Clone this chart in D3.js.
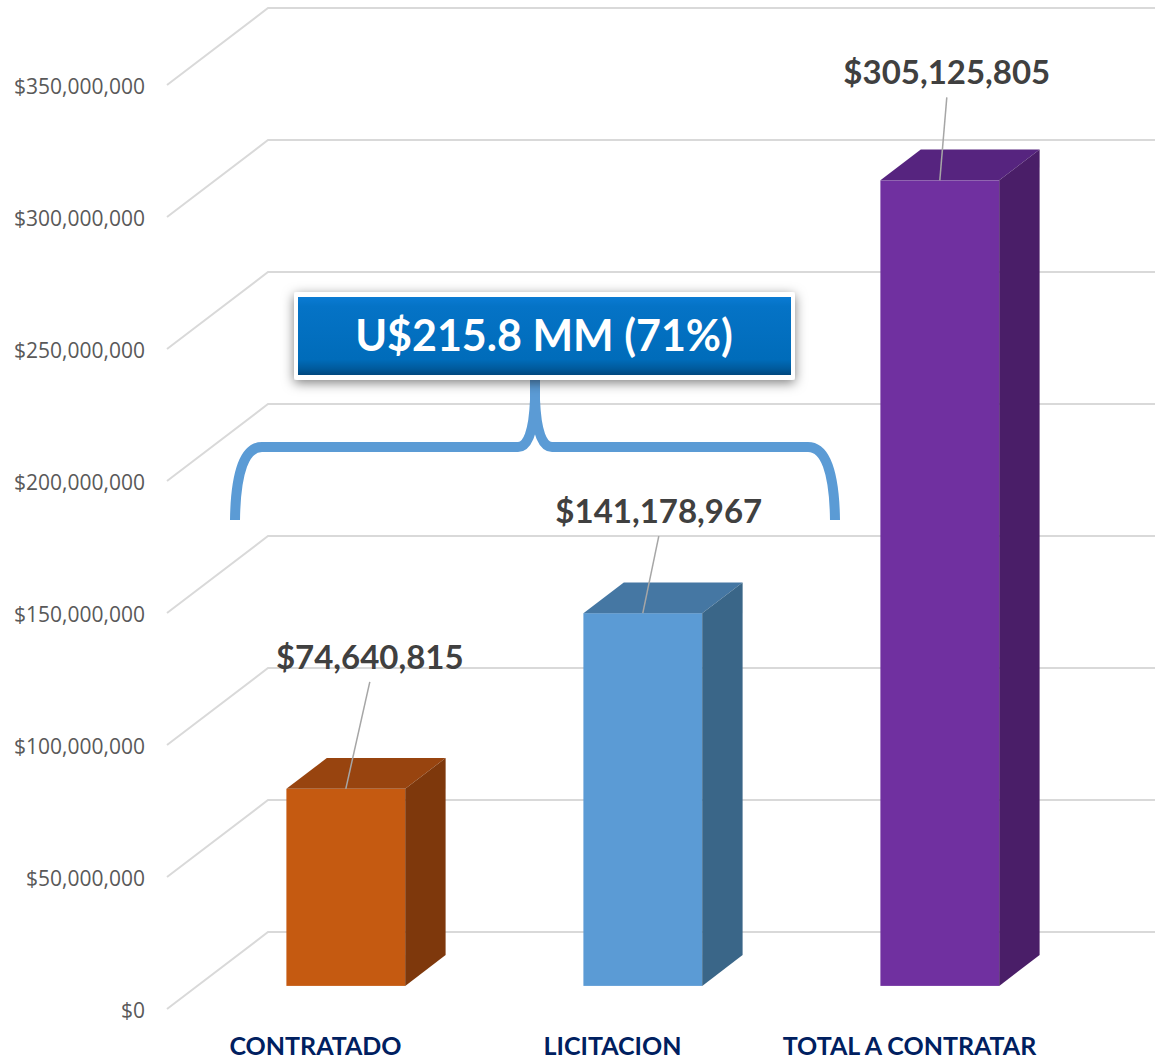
<!DOCTYPE html>
<html>
<head>
<meta charset="utf-8">
<script src="https://cdn.jsdelivr.net/npm/d3@7"></script>
<style>
  body { margin: 0; background: #fff; }
  svg text { font-family: Lato, "Open Sans", sans-serif; }
</style>
</head>
<body>
<div id="chart"></div>
<script>
// Data
const categories = ["CONTRATADO", "LICITACION", "TOTAL A CONTRATAR"];
const values = [74640815, 141178967, 305125805];
const yTicks = [0, 50e6, 100e6, 150e6, 200e6, 250e6, 300e6, 350e6];
const calloutText = "U$215.8 MM (71%)";

// Colours per bar: front, top, side
const frontColors = ["#C55A11", "#5B9BD5", "#7030A0"];
const topColors = ["#98440F", "#4577A3", "#56247F"];
const sideColors = ["#7E380C", "#3A6688", "#4A1E68"];

const width = 1155, height = 1061;

// 3D depth offset (full depth of the plot box)
const depthX = 101, depthY = -77;
const barZ0 = 0.3, barZ1 = 0.7;

const svg = d3.select("#chart")
    .append("svg")
    .attr("width", width)
    .attr("height", height);

const defs = svg.append("defs");
const grad = defs.append("linearGradient")
    .attr("id", "boxGrad")
    .attr("x1", 0).attr("y1", 0).attr("x2", 0).attr("y2", 1);
grad.append("stop").attr("offset", "0%").attr("stop-color", "#0A7BD3");
grad.append("stop").attr("offset", "12%").attr("stop-color", "#0573C6");
grad.append("stop").attr("offset", "80%").attr("stop-color", "#006CBA");
grad.append("stop").attr("offset", "92%").attr("stop-color", "#005A9C");
grad.append("stop").attr("offset", "100%").attr("stop-color", "#00477D");

const shadow = defs.append("filter")
    .attr("id", "shadow")
    .attr("x", "-10%").attr("y", "-40%")
    .attr("width", "120%").attr("height", "180%");
shadow.append("feDropShadow")
    .attr("dx", 0).attr("dy", 3)
    .attr("stdDeviation", 6)
    .attr("flood-color", "#000")
    .attr("flood-opacity", 0.5);

// Scales
const xScale = d3.scaleBand()
    .domain(categories)
    .range([167, 1058])
    .paddingInner(0.6)
    .paddingOuter(0.3);

const yScale = d3.scaleLinear()
    .domain([0, 350e6])
    .range([1009, 85]);

// project (x, value, depth z) to screen
function px(x, z) { return x + z * depthX; }
function py(v, z) { return yScale(v) + z * depthY; }

// Gridlines: side wall diagonal + back wall
svg.append("g")
    .selectAll("polyline")
    .data(yTicks)
    .enter().append("polyline")
    .attr("points", d => [
        [xScale.range()[0], py(d, 0)],
        [px(xScale.range()[0], 1), py(d, 1)],
        [px(xScale.range()[1], 1), py(d, 1)]
    ].join(" "))
    .attr("fill", "none")
    .attr("stroke", "#D9D9D9")
    .attr("stroke-width", 2);

// Y axis labels
svg.append("g")
    .attr("transform", "translate(" + xScale.range()[0] + ",0)")
    .call(d3.axisLeft(yScale)
        .tickValues(yTicks)
        .tickSize(0)
        .tickPadding(22)
        .tickFormat(d => "$" + d3.format(",")(d)))
    .call(g => g.select(".domain").remove())
    .selectAll("text")
    .attr("fill", "#595959")
    .style("font-family", "'Open Sans', sans-serif")
    .style("font-size", "21px")
    .attr("dy", "0.4em");

// Bars
const bars = svg.append("g")
    .selectAll("g")
    .data(values)
    .enter().append("g");

bars.append("rect")
    .attr("x", (d, i) => px(xScale(categories[i]), barZ0))
    .attr("y", d => py(d, barZ0))
    .attr("width", xScale.bandwidth())
    .attr("height", d => py(0, barZ0) - py(d, barZ0))
    .attr("fill", (d, i) => frontColors[i]);

bars.append("polygon")
    .attr("points", (d, i) => {
        const x0 = xScale(categories[i]), x1 = x0 + xScale.bandwidth();
        return [
            [px(x0, barZ0), py(d, barZ0)],
            [px(x0, barZ1), py(d, barZ1)],
            [px(x1, barZ1), py(d, barZ1)],
            [px(x1, barZ0), py(d, barZ0)]
        ].join(" ");
    })
    .attr("fill", (d, i) => topColors[i]);

bars.append("polygon")
    .attr("points", (d, i) => {
        const x1 = xScale(categories[i]) + xScale.bandwidth();
        return [
            [px(x1, barZ0), py(d, barZ0)],
            [px(x1, barZ1), py(d, barZ1)],
            [px(x1, barZ1), py(0, barZ1)],
            [px(x1, barZ0), py(0, barZ0)]
        ].join(" ");
    })
    .attr("fill", (d, i) => sideColors[i]);

// Data labels (dragged away from bars, with leader lines)
const labelNudge = [[24, -120], [16, -90], [7, -96]];
const labelX = (d, i) => px(xScale(categories[i]), barZ0) + xScale.bandwidth() / 2 + labelNudge[i][0];
const labelY = (d, i) => py(d, barZ0) + labelNudge[i][1];

svg.append("g")
    .selectAll("line")
    .data(values)
    .enter().append("line")
    .attr("x1", labelX)
    .attr("y1", (d, i) => labelY(d, i) + 13)
    .attr("x2", (d, i) => px(xScale(categories[i]), barZ0) + xScale.bandwidth() / 2)
    .attr("y2", d => py(d, barZ0))
    .attr("stroke", "#A6A6A6")
    .attr("stroke-width", 1.5);

svg.append("g")
    .selectAll("text")
    .data(values)
    .enter().append("text")
    .attr("x", labelX)
    .attr("y", labelY)
    .attr("text-anchor", "middle")
    .attr("fill", "#404040")
    .style("font-size", "33px")
    .style("font-weight", "bold")
    .text(d => "$" + d3.format(",")(d));

// Category labels
svg.append("g")
    .selectAll("text")
    .data(categories)
    .enter().append("text")
    .attr("x", d => xScale(d) + xScale.bandwidth() / 2)
    .attr("y", 1055)
    .attr("text-anchor", "middle")
    .attr("fill", "#002060")
    .style("font-size", "25px")
    .style("font-weight", "bold")
    .text(d => d);

// Brace spanning the first two bars
svg.append("path")
    .attr("d", "M235,520 Q236,447 262,447 L518,447 Q533,447 535,400 L535,378 L535,400 Q537,447 552,447 L808,447 Q834,447 835,520")
    .attr("fill", "none")
    .attr("stroke", "#5B9BD5")
    .attr("stroke-width", 10)
    .attr("stroke-linejoin", "round");

// Callout box
const box = svg.append("g");
box.append("rect")
    .attr("x", 294).attr("y", 292)
    .attr("width", 501).attr("height", 88)
    .attr("rx", 3)
    .attr("fill", "#fff")
    .attr("filter", "url(#shadow)");
box.append("rect")
    .attr("x", 298).attr("y", 297)
    .attr("width", 493).attr("height", 78)
    .attr("fill", "url(#boxGrad)");
box.append("text")
    .attr("x", 544)
    .attr("y", 351)
    .attr("text-anchor", "middle")
    .attr("fill", "#fff")
    .style("font-size", "43px")
    .style("font-weight", "bold")
    .text(calloutText);
</script>
</body>
</html>
